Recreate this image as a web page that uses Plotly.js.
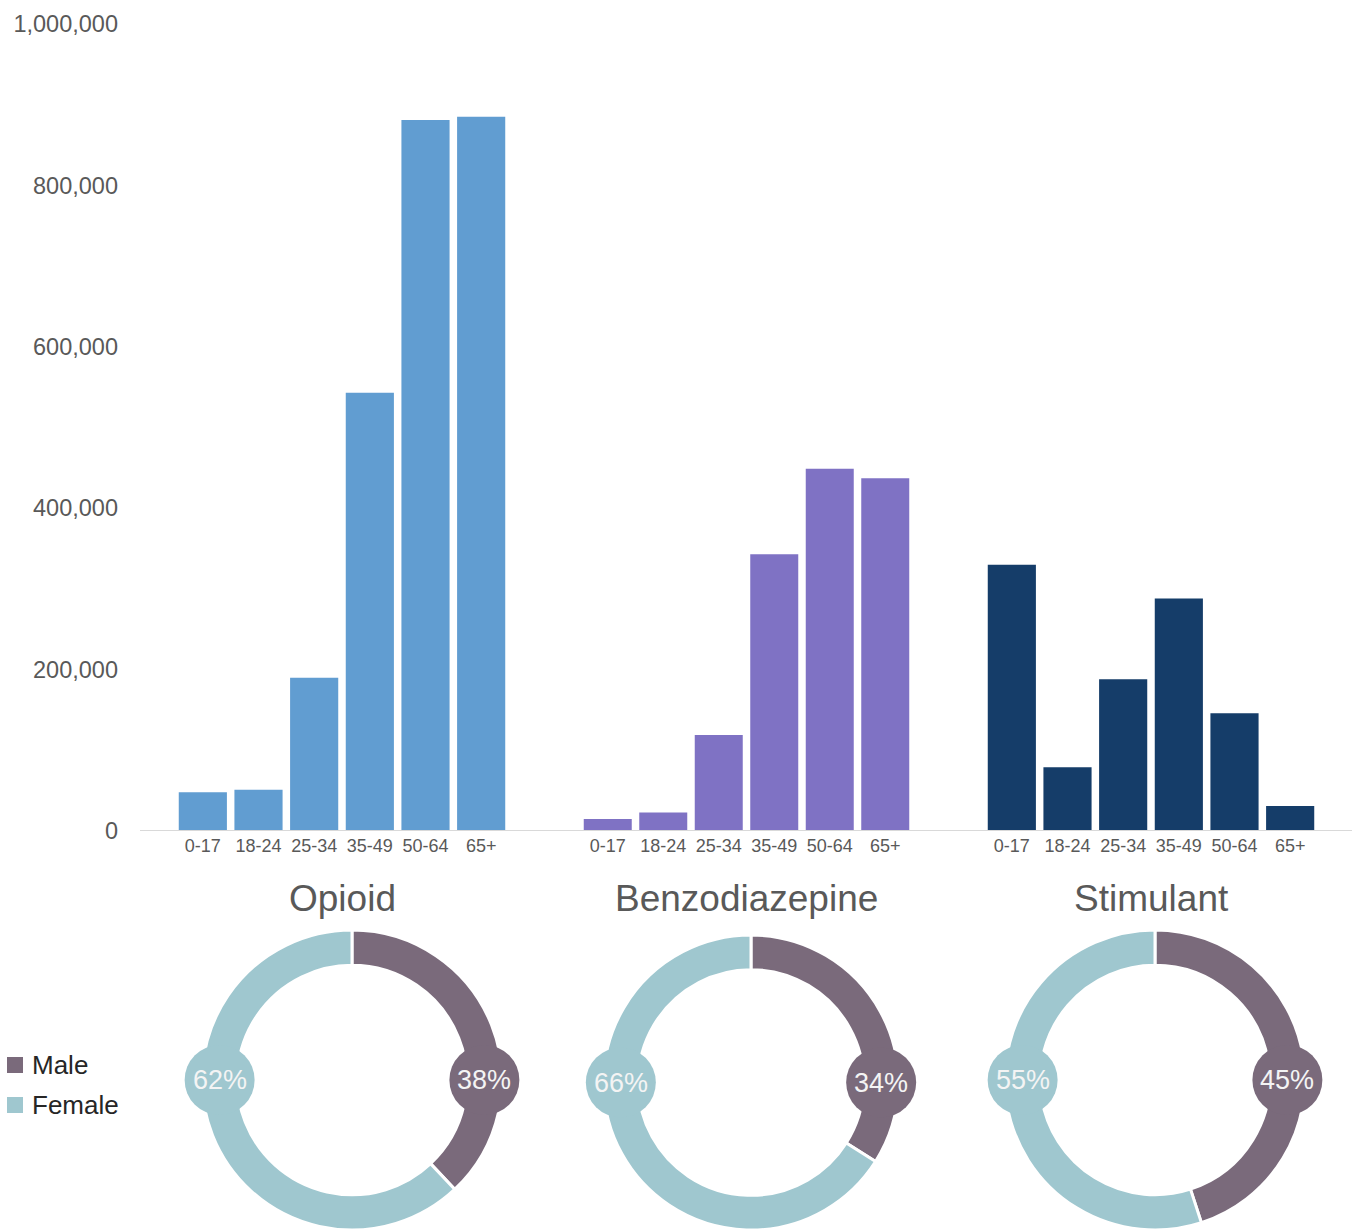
<!DOCTYPE html>
<html>
<head>
<meta charset="utf-8">
<script src="https://cdn.plot.ly/plotly-3.0.1.min.js"></script>
<style>
  html, body { margin: 0; padding: 0; background: #ffffff; }
  #chart { width: 1362px; height: 1230px; }
</style>
</head>
<body>
<div id="chart"></div>
<script>
// ---------------- DATA ----------------
const ageGroups = ['0-17', '18-24', '25-34', '35-49', '50-64', '65+'];
const drugClasses = ['Opioid', 'Benzodiazepine', 'Stimulant'];
const opioidCounts = [48000, 51000, 190000, 543000, 881000, 885000];
const benzoCounts = [15000, 23000, 119000, 343000, 449000, 437000];
const stimulantCounts = [330000, 79000, 188000, 288000, 146000, 31000];
const yTickValues = [0, 200000, 400000, 600000, 800000, 1000000];
const sexLabels = ['Male', 'Female'];
const opioidSexPct = [38, 62];
const benzoSexPct = [34, 66];
const stimulantSexPct = [45, 55];

// ---------------- STYLE / LAYOUT ----------------
const W = 1362, H = 1230;
const fx = p => p / W;          // pixel x -> paper
const fy = p => 1 - p / H;      // pixel y (from top) -> paper
const FONT = 'Liberation Sans, Arial, Helvetica, sans-serif';
const barColors = ['#619dd1', '#7f72c4', '#153d69'];
const sexColors = ['#7a6a7b', '#9fc7cf'];
const textGray = '#595959';

// bar subplot horizontal extents (pixels)
const barDomainsPx = [[175, 509], [580, 913], [984, 1318]];
// donut boxes: [left, right, topPx, bottomPx]
const donutBoxesPx = [[202, 502, 930, 1230], [603, 899, 935, 1230], [1005, 1305, 930, 1230]];
const holeFrac = 0.765;

const countsByClass = [opioidCounts, benzoCounts, stimulantCounts];
const pctByClass = [opioidSexPct, benzoSexPct, stimulantSexPct];
const axisSuffix = ['', '2', '3'];

const traces = [];
countsByClass.forEach((vals, i) => {
  traces.push({
    type: 'bar',
    name: drugClasses[i],
    x: ageGroups,
    y: vals,
    xaxis: 'x' + axisSuffix[i],
    yaxis: 'y',
    marker: { color: barColors[i] },
    showlegend: false,
    hovertemplate: drugClasses[i] + ' %{x}: %{y:,}<extra></extra>'
  });
});

pctByClass.forEach((vals, i) => {
  const b = donutBoxesPx[i];
  traces.push({
    type: 'pie',
    name: drugClasses[i],
    labels: sexLabels,
    values: vals,
    domain: { x: [fx(b[0]), fx(b[1])], y: [Math.max(0, fy(b[3])), fy(b[2])] },
    hole: holeFrac,
    sort: false,
    direction: 'clockwise',
    rotation: 0,
    textinfo: 'none',
    marker: { colors: sexColors, line: { color: '#ffffff', width: 3 } },
    showlegend: false
  });
});

const shapes = [];
const annotations = [];

// baseline across all bar groups
shapes.push({
  type: 'line', xref: 'paper', yref: 'y',
  x0: fx(140), x1: fx(1352), y0: 0, y1: 0,
  line: { color: '#d9d9d9', width: 2 }, layer: 'above'
});

// donut titles, centered under each bar group
drugClasses.forEach((name, i) => {
  const d = barDomainsPx[i];
  annotations.push({
    xref: 'paper', yref: 'paper',
    x: fx((d[0] + d[1]) / 2), y: fy(899),
    xanchor: 'center', yanchor: 'middle',
    text: name, showarrow: false,
    font: { family: FONT, size: 37, color: textGray }
  });
});

// percentage bubbles on the rings (right for male, left for female)
const labelAngles = [90, 270];
pctByClass.forEach((vals, i) => {
  const b = donutBoxesPx[i];
  const w = b[1] - b[0], h = b[3] - b[2];
  const r = Math.min(w, h) / 2;
  const cx = (b[0] + b[1]) / 2, cy = (b[2] + b[3]) / 2;
  const rMid = r * (1 + holeFrac) / 2;
  vals.forEach((v, j) => {
    const a = labelAngles[j] * Math.PI / 180;
    const px = cx + rMid * Math.sin(a);
    const py = cy - rMid * Math.cos(a);
    shapes.push({
      type: 'circle', xref: 'paper', yref: 'paper',
      xsizemode: 'pixel', ysizemode: 'pixel',
      xanchor: fx(px), yanchor: fy(py),
      x0: -35, x1: 35, y0: -35, y1: 35,
      fillcolor: sexColors[j], line: { width: 0 }, layer: 'above'
    });
    annotations.push({
      xref: 'paper', yref: 'paper',
      x: fx(px), y: fy(py),
      xanchor: 'center', yanchor: 'middle',
      text: v + '%', showarrow: false,
      font: { family: FONT, size: 27, color: '#f4f4f4' }
    });
  });
});

// legend (Male / Female)
const legendRowsPx = [1065, 1105];
sexLabels.forEach((lab, j) => {
  shapes.push({
    type: 'rect', xref: 'paper', yref: 'paper',
    xsizemode: 'pixel', ysizemode: 'pixel',
    xanchor: fx(15), yanchor: fy(legendRowsPx[j]),
    x0: -8, x1: 8, y0: -8, y1: 8,
    fillcolor: sexColors[j], line: { width: 0 }
  });
  annotations.push({
    xref: 'paper', yref: 'paper',
    x: fx(30), y: fy(legendRowsPx[j]),
    xanchor: 'left', yanchor: 'middle',
    text: lab, showarrow: false,
    font: { family: FONT, size: 26, color: '#262626' }
  });
});

const xAxisBase = {
  type: 'category', anchor: 'y', showline: false, showgrid: false, zeroline: false,
  ticks: '', ticklabelstandoff: 2,
  tickfont: { family: FONT, size: 18, color: textGray }, fixedrange: true
};

const layout = {
  width: W, height: H,
  margin: { l: 0, r: 0, t: 0, b: 0 },
  paper_bgcolor: '#ffffff', plot_bgcolor: 'rgba(0,0,0,0)',
  font: { family: FONT, color: textGray },
  bargap: 0.135,
  showlegend: false,
  xaxis: Object.assign({}, xAxisBase, { domain: [fx(barDomainsPx[0][0]), fx(barDomainsPx[0][1])] }),
  xaxis2: Object.assign({}, xAxisBase, { domain: [fx(barDomainsPx[1][0]), fx(barDomainsPx[1][1])] }),
  xaxis3: Object.assign({}, xAxisBase, { domain: [fx(barDomainsPx[2][0]), fx(barDomainsPx[2][1])] }),
  yaxis: {
    domain: [fy(831), fy(24)],
    range: [0, 1000000],
    anchor: 'free', position: fx(140),
    tickvals: yTickValues, tickformat: ',d',
    showgrid: false, zeroline: false, showline: false, ticks: '',
    ticklabelstandoff: 22,
    tickfont: { family: FONT, size: 23.5, color: textGray },
    fixedrange: true
  },
  shapes: shapes,
  annotations: annotations
};

Plotly.newPlot('chart', traces, layout, { displayModeBar: false, responsive: false });
</script>
</body>
</html>
